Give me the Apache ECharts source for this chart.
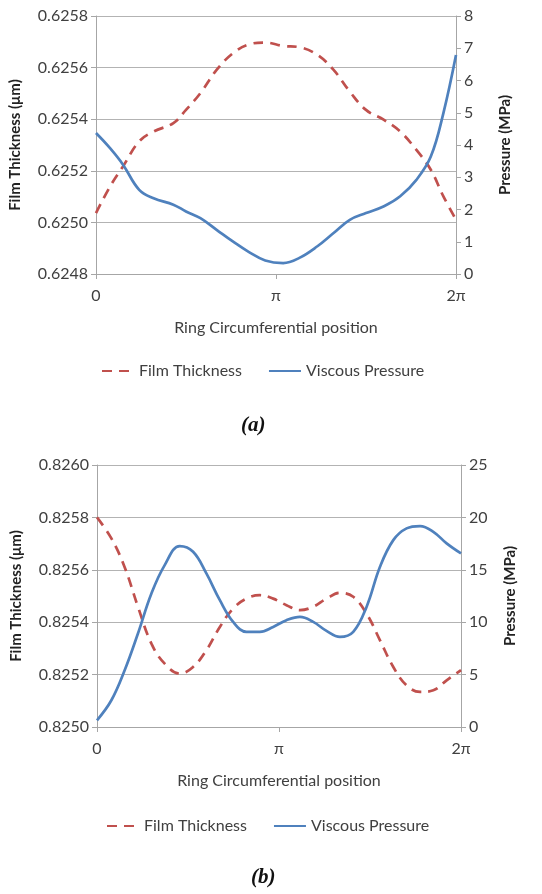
<!DOCTYPE html>
<html>
<head>
<meta charset="utf-8">
<script src="https://cdn.jsdelivr.net/npm/echarts@6/dist/echarts.min.js"></script>
<style>
  html, body { margin: 0; padding: 0; background: #fff; }
  #chart { width: 542px; height: 894px; }
</style>
</head>
<body>
<div id="chart"></div>
<script>
// positions along the ring, in units of pi
const xTicks = ['0', 'π', '2π'];

// chart (a)
const posA = [0, 0.078, 0.15, 0.24, 0.32, 0.43, 0.50, 0.58, 0.67, 0.76, 0.85, 0.94, 1.04, 1.13, 1.23, 1.32, 1.41, 1.50, 1.60, 1.69, 1.78, 1.86, 1.93, 2.0];
const filmA = [0.625036, 0.625139, 0.625217, 0.625314, 0.625352, 0.625385, 0.625436, 0.625501, 0.625591, 0.625655, 0.625690, 0.625697,
               0.625684, 0.625679, 0.625649, 0.625591, 0.625507, 0.625436, 0.625397, 0.625352, 0.625281, 0.625204, 0.625101, 0.625010];
const presA = [4.37, 3.90, 3.39, 2.61, 2.35, 2.15, 1.94, 1.73, 1.37, 1.01, 0.68, 0.42,
               0.34, 0.50, 0.86, 1.27, 1.68, 1.89, 2.10, 2.41, 2.92, 3.64, 4.99, 6.79];

// chart (b)
const posB = [0, 0.079, 0.152, 0.225, 0.299, 0.372, 0.455, 0.528, 0.601, 0.675, 0.748, 0.821, 0.895, 0.968,
              1.041, 1.115, 1.188, 1.261, 1.335, 1.408, 1.481, 1.555, 1.628, 1.701, 1.775, 1.848, 1.921, 2.0];
const filmB = [0.825800, 0.825720, 0.825610, 0.825459, 0.825318, 0.825242, 0.825204, 0.825229, 0.825293, 0.825382,
               0.825452, 0.825490, 0.825503, 0.825490, 0.825465, 0.825446, 0.825459, 0.825490, 0.825512, 0.825497,
               0.825433, 0.825331, 0.825229, 0.825159, 0.825134, 0.825140, 0.825178, 0.825217];
const presB = [0.64, 2.55, 5.41, 8.92, 12.74, 15.45, 17.26, 16.72, 14.65, 12.10, 10.03, 9.08, 9.08, 9.55,
               10.19, 10.51, 10.03, 9.17, 8.60, 9.08, 11.46, 15.29, 17.83, 18.95, 19.17, 18.63, 17.52, 16.56];

const RED = '#C0504D';
const BLUE = '#4F81BD';
const TXT = '#404040';
const FONT = 'Lato';

function pairs(xs, ys) { return xs.map((x, i) => [x, ys[i]]); }

function xAxisFor(gridIndex) {
  return {
    type: 'value', gridIndex: gridIndex, min: 0, max: 2, interval: 1,
    name: 'Ring Circumferential position', nameLocation: 'middle', nameGap: 46,
    nameTextStyle: { color: TXT, fontSize: 16, fontFamily: FONT },
    axisLine: { show: true, lineStyle: { color: '#a6a6a6', width: 1 } },
    axisTick: { show: true, length: 5, lineStyle: { color: '#a6a6a6' } },
    axisLabel: { color: TXT, fontSize: 16, fontFamily: FONT, margin: 14,
                 formatter: v => xTicks[Math.round(v)] },
    splitLine: { show: false }
  };
}

function leftAxis(gridIndex, min, max) {
  return {
    type: 'value', gridIndex: gridIndex, position: 'left', min: min, max: max, interval: 0.0002,
    name: 'Film Thickness (μm)', nameLocation: 'middle', nameGap: 73, nameRotate: 90,
    nameTextStyle: { color: '#222', fontSize: 15, fontWeight: 'bold', fontFamily: FONT },
    axisLine: { show: true, lineStyle: { color: '#a6a6a6' } },
    axisTick: { show: true, length: 5, lineStyle: { color: '#a6a6a6' } },
    axisLabel: { color: TXT, fontSize: 16, fontFamily: FONT, margin: 8, formatter: v => v.toFixed(4) },
    splitLine: { show: true, lineStyle: { color: '#b3b3b3', width: 1 } }
  };
}

function rightAxis(gridIndex, max, step) {
  return {
    type: 'value', gridIndex: gridIndex, position: 'right', min: 0, max: max, interval: step,
    name: 'Pressure (MPa)', nameLocation: 'middle', nameGap: 42, nameRotate: 90,
    nameTextStyle: { color: '#222', fontSize: 15, fontWeight: 'bold', fontFamily: FONT },
    axisLine: { show: true, lineStyle: { color: '#a6a6a6' } },
    axisTick: { show: true, length: 5, lineStyle: { color: '#a6a6a6' } },
    axisLabel: { color: TXT, fontSize: 16, fontFamily: FONT, margin: 8 },
    splitLine: { show: false }
  };
}

function lineSeries(name, xIdx, yIdx, data, color, dashed) {
  return {
    name: name, type: 'line', xAxisIndex: xIdx, yAxisIndex: yIdx,
    data: data, smooth: 0.4, symbol: 'none',
    lineStyle: { color: color, width: 2.7, type: dashed ? [10, 7] : 'solid' },
    itemStyle: { color: color }
  };
}

const legendBase = {
  data: ['Film Thickness', 'Viscous Pressure'], itemWidth: 32, itemHeight: 14, itemGap: 26,
  itemStyle: { opacity: 0 },
  textStyle: { color: TXT, fontSize: 16, fontFamily: FONT }
};

const chart = echarts.init(document.getElementById('chart'), null, { renderer: 'canvas' });

chart.setOption({
  backgroundColor: '#fff',
  animation: false,
  title: [
    { text: '(a)', left: 236, top: 410,
      textStyle: { fontFamily: 'Liberation Serif', fontStyle: 'italic', fontWeight: 'bold', fontSize: 21, color: '#111' } },
    { text: '(b)', left: 246, top: 862,
      textStyle: { fontFamily: 'Liberation Serif', fontStyle: 'italic', fontWeight: 'bold', fontSize: 21, color: '#111' } }
  ],
  legend: [
    Object.assign({}, legendBase, { left: 96, top: 358 }),
    Object.assign({}, legendBase, { left: 101, top: 813 })
  ],
  grid: [
    { left: 96, right: 86, top: 16, height: 258 },
    { left: 97, right: 81, top: 465, height: 262 }
  ],
  xAxis: [xAxisFor(0), xAxisFor(1)],
  yAxis: [
    leftAxis(0, 0.6248, 0.6258),
    rightAxis(0, 8, 1),
    leftAxis(1, 0.8250, 0.8260),
    rightAxis(1, 25, 5)
  ],
  series: [
    lineSeries('Film Thickness', 0, 0, pairs(posA, filmA), RED, true),
    lineSeries('Viscous Pressure', 0, 1, pairs(posA, presA), BLUE, false),
    lineSeries('Film Thickness', 1, 2, pairs(posB, filmB), RED, true),
    lineSeries('Viscous Pressure', 1, 3, pairs(posB, presB), BLUE, false)
  ]
});
</script>
</body>
</html>
